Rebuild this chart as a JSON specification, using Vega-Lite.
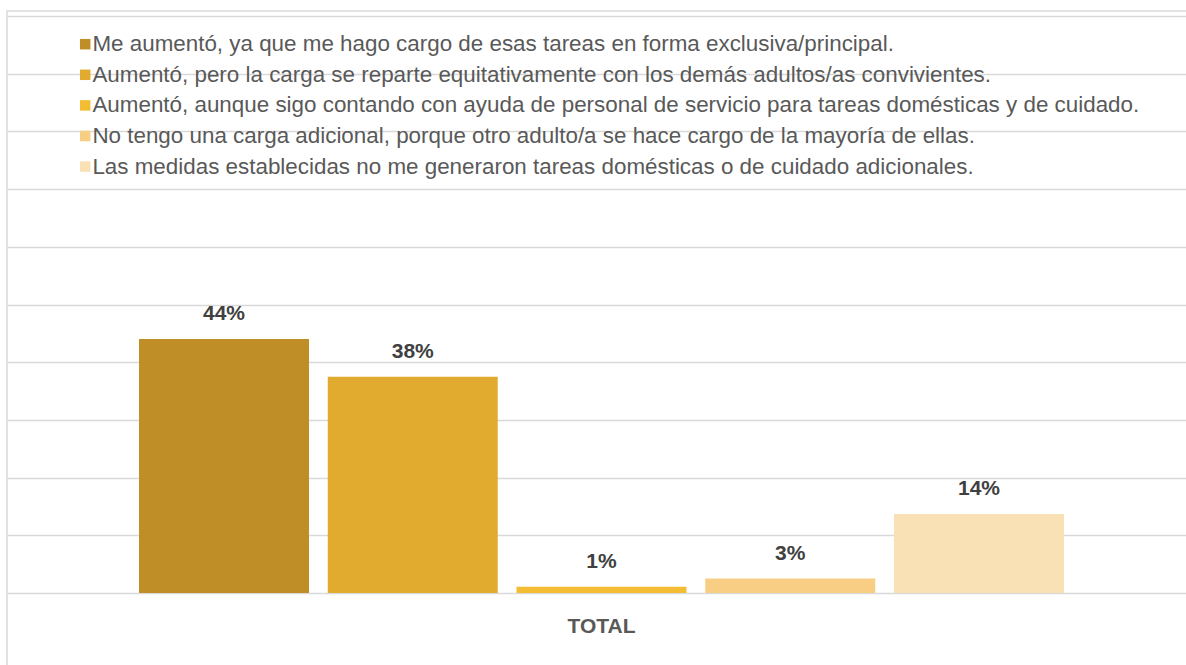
{
  "$schema": "https://vega.github.io/schema/vega-lite/v6.json",
  "width": 1179,
  "height": 654,
  "autosize": {"type": "none"},
  "padding": {"left": 7, "top": 11, "right": 0, "bottom": 0},
  "background": "white",
  "config": {
    "view": {"stroke": "#d9d9d9", "strokeWidth": 1.5, "strokeDash": [1179, 1833, 654]},
    "font": "Liberation Sans"
  },
  "data": {
    "values": [
      {"categoria": "TOTAL", "respuesta": "Me aumentó, ya que me hago cargo de esas tareas en forma exclusiva/principal.", "valor": 44, "etiqueta": "44%"},
      {"categoria": "TOTAL", "respuesta": "Aumentó, pero la carga se reparte equitativamente con los demás adultos/as convivientes.", "valor": 37.5, "etiqueta": "38%"},
      {"categoria": "TOTAL", "respuesta": "Aumentó, aunque sigo contando con ayuda de personal de servicio para tareas domésticas y de cuidado.", "valor": 1.1, "etiqueta": "1%"},
      {"categoria": "TOTAL", "respuesta": "No tengo una carga adicional, porque otro adulto/a se hace cargo de la mayoría de ellas.", "valor": 2.5, "etiqueta": "3%"},
      {"categoria": "TOTAL", "respuesta": "Las medidas establecidas no me generaron tareas domésticas o de cuidado adicionales.", "valor": 13.7, "etiqueta": "14%"}
    ]
  },
  "encoding": {
    "x": {
      "field": "categoria",
      "type": "nominal",
      "scale": {"paddingInner": 0, "paddingOuter": 0.1373, "align": 0.5197},
      "axis": {
        "title": null,
        "orient": "bottom",
        "offset": -33,
        "domain": false,
        "ticks": false,
        "tickSize": 0,
        "grid": false,
        "labelPadding": 0,
        "labelBaseline": "alphabetic",
        "labelAngle": 0,
        "labelFont": "Liberation Sans",
        "labelFontSize": 21,
        "labelFontWeight": "bold",
        "labelColor": "#595959"
      }
    },
    "xOffset": {
      "field": "respuesta",
      "type": "nominal",
      "scale": {
        "domain": [
          "Me aumentó, ya que me hago cargo de esas tareas en forma exclusiva/principal.",
          "Aumentó, pero la carga se reparte equitativamente con los demás adultos/as convivientes.",
          "Aumentó, aunque sigo contando con ayuda de personal de servicio para tareas domésticas y de cuidado.",
          "No tengo una carga adicional, porque otro adulto/a se hace cargo de la mayoría de ellas.",
          "Las medidas establecidas no me generaron tareas domésticas o de cuidado adicionales."
        ],
        "paddingInner": 0.0993,
        "paddingOuter": 0
      }
    },
    "y": {
      "field": "valor",
      "type": "quantitative",
      "scale": {"domain": [0, 100], "range": [582, 5], "nice": false, "zero": true},
      "axis": {
        "title": null,
        "values": [0, 10, 20, 30, 40, 50, 60, 70, 80, 90, 100],
        "labels": false,
        "ticks": false,
        "domain": false,
        "grid": true,
        "gridColor": "#d9d9d9",
        "gridWidth": 1.5
      }
    }
  },
  "layer": [
    {
      "mark": {"type": "bar"},
      "encoding": {
        "color": {
          "field": "respuesta",
          "type": "nominal",
          "scale": {
            "domain": [
              "Me aumentó, ya que me hago cargo de esas tareas en forma exclusiva/principal.",
              "Aumentó, pero la carga se reparte equitativamente con los demás adultos/as convivientes.",
              "Aumentó, aunque sigo contando con ayuda de personal de servicio para tareas domésticas y de cuidado.",
              "No tengo una carga adicional, porque otro adulto/a se hace cargo de la mayoría de ellas.",
              "Las medidas establecidas no me generaron tareas domésticas o de cuidado adicionales."
            ],
            "range": ["#C08E26", "#E1AB2F", "#F4BC33", "#F7CE83", "#F9E0B5"]
          },
          "legend": {
            "title": null,
            "orient": "none",
            "legendX": 67,
            "legendY": 22,
            "padding": 0,
            "symbolType": "square",
            "symbolSize": 110,
            "symbolStrokeWidth": 0,
            "labelFont": "Liberation Sans",
            "labelFontSize": 22.4,
            "labelColor": "#595959",
            "labelOffset": -4,
            "labelLimit": 2000,
            "rowPadding": 7.6
          }
        }
      }
    },
    {
      "mark": {
        "type": "text",
        "dy": -19,
        "baseline": "alphabetic",
        "font": "Liberation Sans",
        "fontSize": 21,
        "fontWeight": "bold",
        "color": "#404040"
      },
      "encoding": {
        "text": {"field": "etiqueta"}
      }
    }
  ]
}
